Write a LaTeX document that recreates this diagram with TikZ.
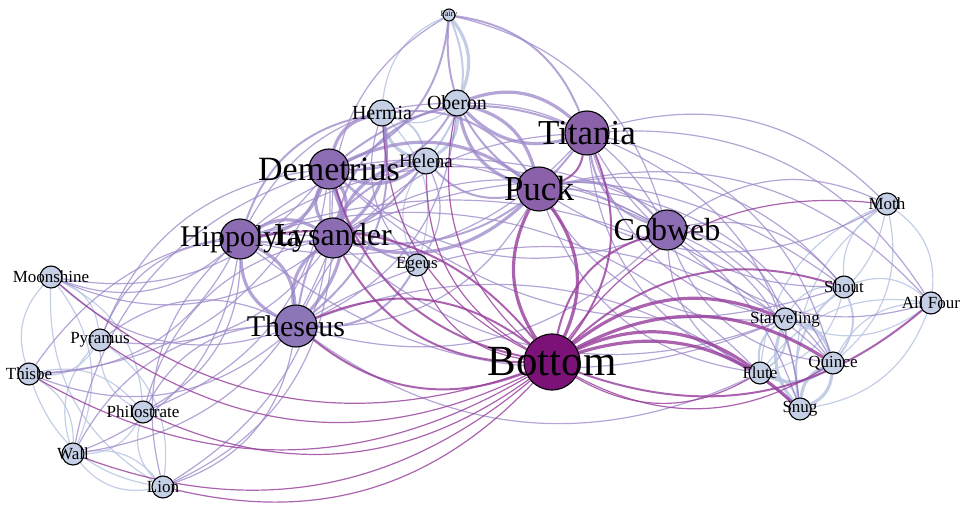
\documentclass[tikz,border=0pt]{standalone}
\usepackage{fontspec}
\setmainfont{Liberation Serif}
\pgfdeclarelayer{edges}
\pgfdeclarelayer{fg}
\pgfsetlayers{edges,main,fg}
\definecolor{ltn}{RGB}{197,208,230}
\definecolor{pun}{RGB}{139,97,170}
\definecolor{dmn}{RGB}{140,108,178}
\definecolor{thn}{RGB}{140,118,184}
\definecolor{bon}{RGB}{124,18,120}
\definecolor{eLc}{RGB}{185,198,226}
\definecolor{ePc}{RGB}{155,135,200}
\definecolor{eMc}{RGB}{150,60,155}
\tikzset{
  nd/.style={circle,draw=black,line width=1.1pt,inner sep=0pt},
  eL/.style={draw=eLc,draw opacity=.85},
  eP/.style={draw=ePc,draw opacity=.75},
  eM/.style={draw=eMc,draw opacity=.8},
  arc/.style={bend left=30},
}
\begin{document}
\begin{tikzpicture}[x=1pt,y=-1pt]
\useasboundingbox (0,0) rectangle (962,505);
\foreach \n/\x/\y/\r/\c/\f/\t in {
 Bot/552/362/28/bon/43/Bottom,
 Tit/587/133/22/pun/35/Titania,
 Puc/539/189/22/pun/35/Puck,
 Cob/667/230/20/dmn/32/Cobweb,
 Dem/329/169/20/dmn/34/Demetrius,
 Hip/240/239/20/dmn/30/Hippolyta,
 Lys/333/238/20/dmn/32/Lysander,
 The/296/326/21/thn/30/Theseus,
 Her/382/113/13/ltn/20/Hermia,
 Obe/457/103/13/ltn/20/Oberon,
 Hel/426/161/13/ltn/19/Helena,
 Ege/417/265/11/ltn/17/Egeus,
 Fai/449/15/6/ltn/8/Fairy,
 Moo/51/277/11/ltn/17/Moonshine,
 Pyr/100/340/11/ltn/17/Pyramus,
 Thi/29/374/11/ltn/17/Thisbe,
 Phi/143/412/11/ltn/17/Philostrate,
 Wal/73/454/11/ltn/17/Wall,
 Lio/163/487/11/ltn/17/Lion,
 Mot/887/204/11/ltn/17/Moth,
 Sho/844/287/11/ltn/17/Shout,
 All/931/303/11/ltn/17/All Four,
 Sta/785/319/11/ltn/17/Starveling,
 Qui/833/363/11/ltn/17/Quince,
 Flu/760/373/11/ltn/17/Flute,
 Snu/800/409/11/ltn/17/Snug}{
  \node[nd,fill=\c,minimum size=\r*2pt] (\n) at (\x,\y) {};
  \begin{pgfonlayer}{fg}
  \node[inner sep=0pt,font=\fontsize{\f}{\f}\selectfont] (\n-t) at (\x,\y) {\t};
  \end{pgfonlayer}
}
\begin{pgfonlayer}{edges}
% light
\foreach \a/\b in {Qui/Snu,Snu/Qui,Qui/Flu,Sta/Qui,Snu/Sta,Fai/Obe,Obe/Hel,Hel/Her}
  \draw[eL,line width=3.2pt] (\a) to[arc] (\b);
\foreach \a/\b in {Flu/Snu,Sta/Flu,Flu/Sta,Sho/Qui,Snu/Sho,Fai/Hel,Her/Hel}
  \draw[eL,line width=2pt] (\a) to[arc] (\b);
\foreach \a/\b in {Sho/Flu,Sta/Sho,Qui/All,All/Snu,Sho/All,All/Sta,Flu/All,Mot/All,Sho/Mot,Mot/Qui,Snu/Mot,Mot/Sta,Flu/Mot,Her/Fai,Obe/Her,Her/Ege,Ege/Hel,
  Moo/Pyr,Thi/Moo,Moo/Wal,Lio/Moo,Moo/Phi,Pyr/Thi,Wal/Pyr,Pyr/Lio,Phi/Pyr,Thi/Wal,Lio/Thi,Thi/Phi,Wal/Lio,Lio/Wal,Phi/Wal,Lio/Phi}
  \draw[eL,line width=1.2pt] (\a) to[arc] (\b);
% lavender
\foreach \a/\b in {Dem/Lys,Lys/Dem,Dem/Her,Her/Lys,Lys/Hel,Hel/Dem,Dem/Puc,Puc/Lys,Obe/Puc,Puc/Obe,Obe/Tit,Tit/Obe,The/Hip,Hip/The,The/Lys,Dem/The,Hip/Lys,Dem/Hip}
  \draw[eP,line width=3.2pt] (\a) to[arc] (\b);
\foreach \a/\b in {Her/Puc,Puc/Hel,Obe/Dem,Lys/Obe,Dem/Tit,Tit/Lys,Ege/The,Lys/Ege,Ege/Dem,Her/The,The/Hel,Hip/Her,Hel/Hip,Fai/Dem,Puc/Fai,Fai/Tit,Cob/Tit,Puc/Cob}
  \draw[eP,line width=2pt] (\a) to[arc] (\b);
\foreach \a/\b in {The/Tit,Obe/The,Tit/Hip,Hip/Obe,Puc/The,Hip/Puc,Ege/Her,Hel/Ege,Obe/Cob,Cob/Dem,Lys/Cob,Cob/The,Hip/Cob,Cob/Sta,Qui/Cob,Cob/Snu,Flu/Cob,Cob/Sho,All/Cob,Cob/Mot,Tit/Mot,Sta/Tit,Tit/Qui,Flu/Tit,Tit/Snu,Sho/Tit,Puc/Qui,Flu/Puc,Puc/Snu,Sta/Puc,Puc/Sho,Mot/Puc,Lys/Fai,Fai/Cob,Tit/All,Puc/All,
  The/Moo,Pyr/The,The/Thi,Wal/The,The/Lio,Phi/The,Hip/Moo,Pyr/Hip,Hip/Thi,Hip/Wal,Lio/Hip,Hip/Phi,Lys/Moo,Lys/Pyr,Thi/Lys,Lys/Wal,Lys/Lio,Phi/Lys,Dem/Moo,Pyr/Dem,Dem/Thi,Wal/Dem,Dem/Lio,Dem/Phi,
  Hip/Qui,Sta/Hip,The/Snu,Flu/The,Lys/Sho,Sta/Lys,Dem/Qui,Sho/Dem,The/Sta,Hip/Flu}
  \draw[eP,line width=1.2pt] (\a) to[arc] (\b);
% magenta
\foreach \a/\b in {Bot/Qui,Bot/Sta,Bot/Flu,Bot/Snu,Puc/Bot,Bot/Puc}
  \draw[eM,line width=3.2pt] (\a) to[arc] (\b);
\foreach \a/\b in {Bot/Sho,All/Bot,Bot/Cob,Tit/Bot,The/Bot,Bot/The,Bot/Lys,Bot/Dem,Hip/Bot,Tit/Puc}
  \draw[eM,line width=2pt] (\a) to[arc] (\b);
\foreach \a/\b in {Qui/Bot,Flu/Bot,Bot/Lio,Bot/Wal,Bot/Thi,Bot/Pyr,Bot/Moo,Bot/Phi,Bot/Mot,Bot/Obe,Bot/Ege,Bot/Her,Bot/Hel}
  \draw[eM,line width=1.2pt] (\a) to[arc] (\b);
\end{pgfonlayer}
\end{tikzpicture}
\end{document}
